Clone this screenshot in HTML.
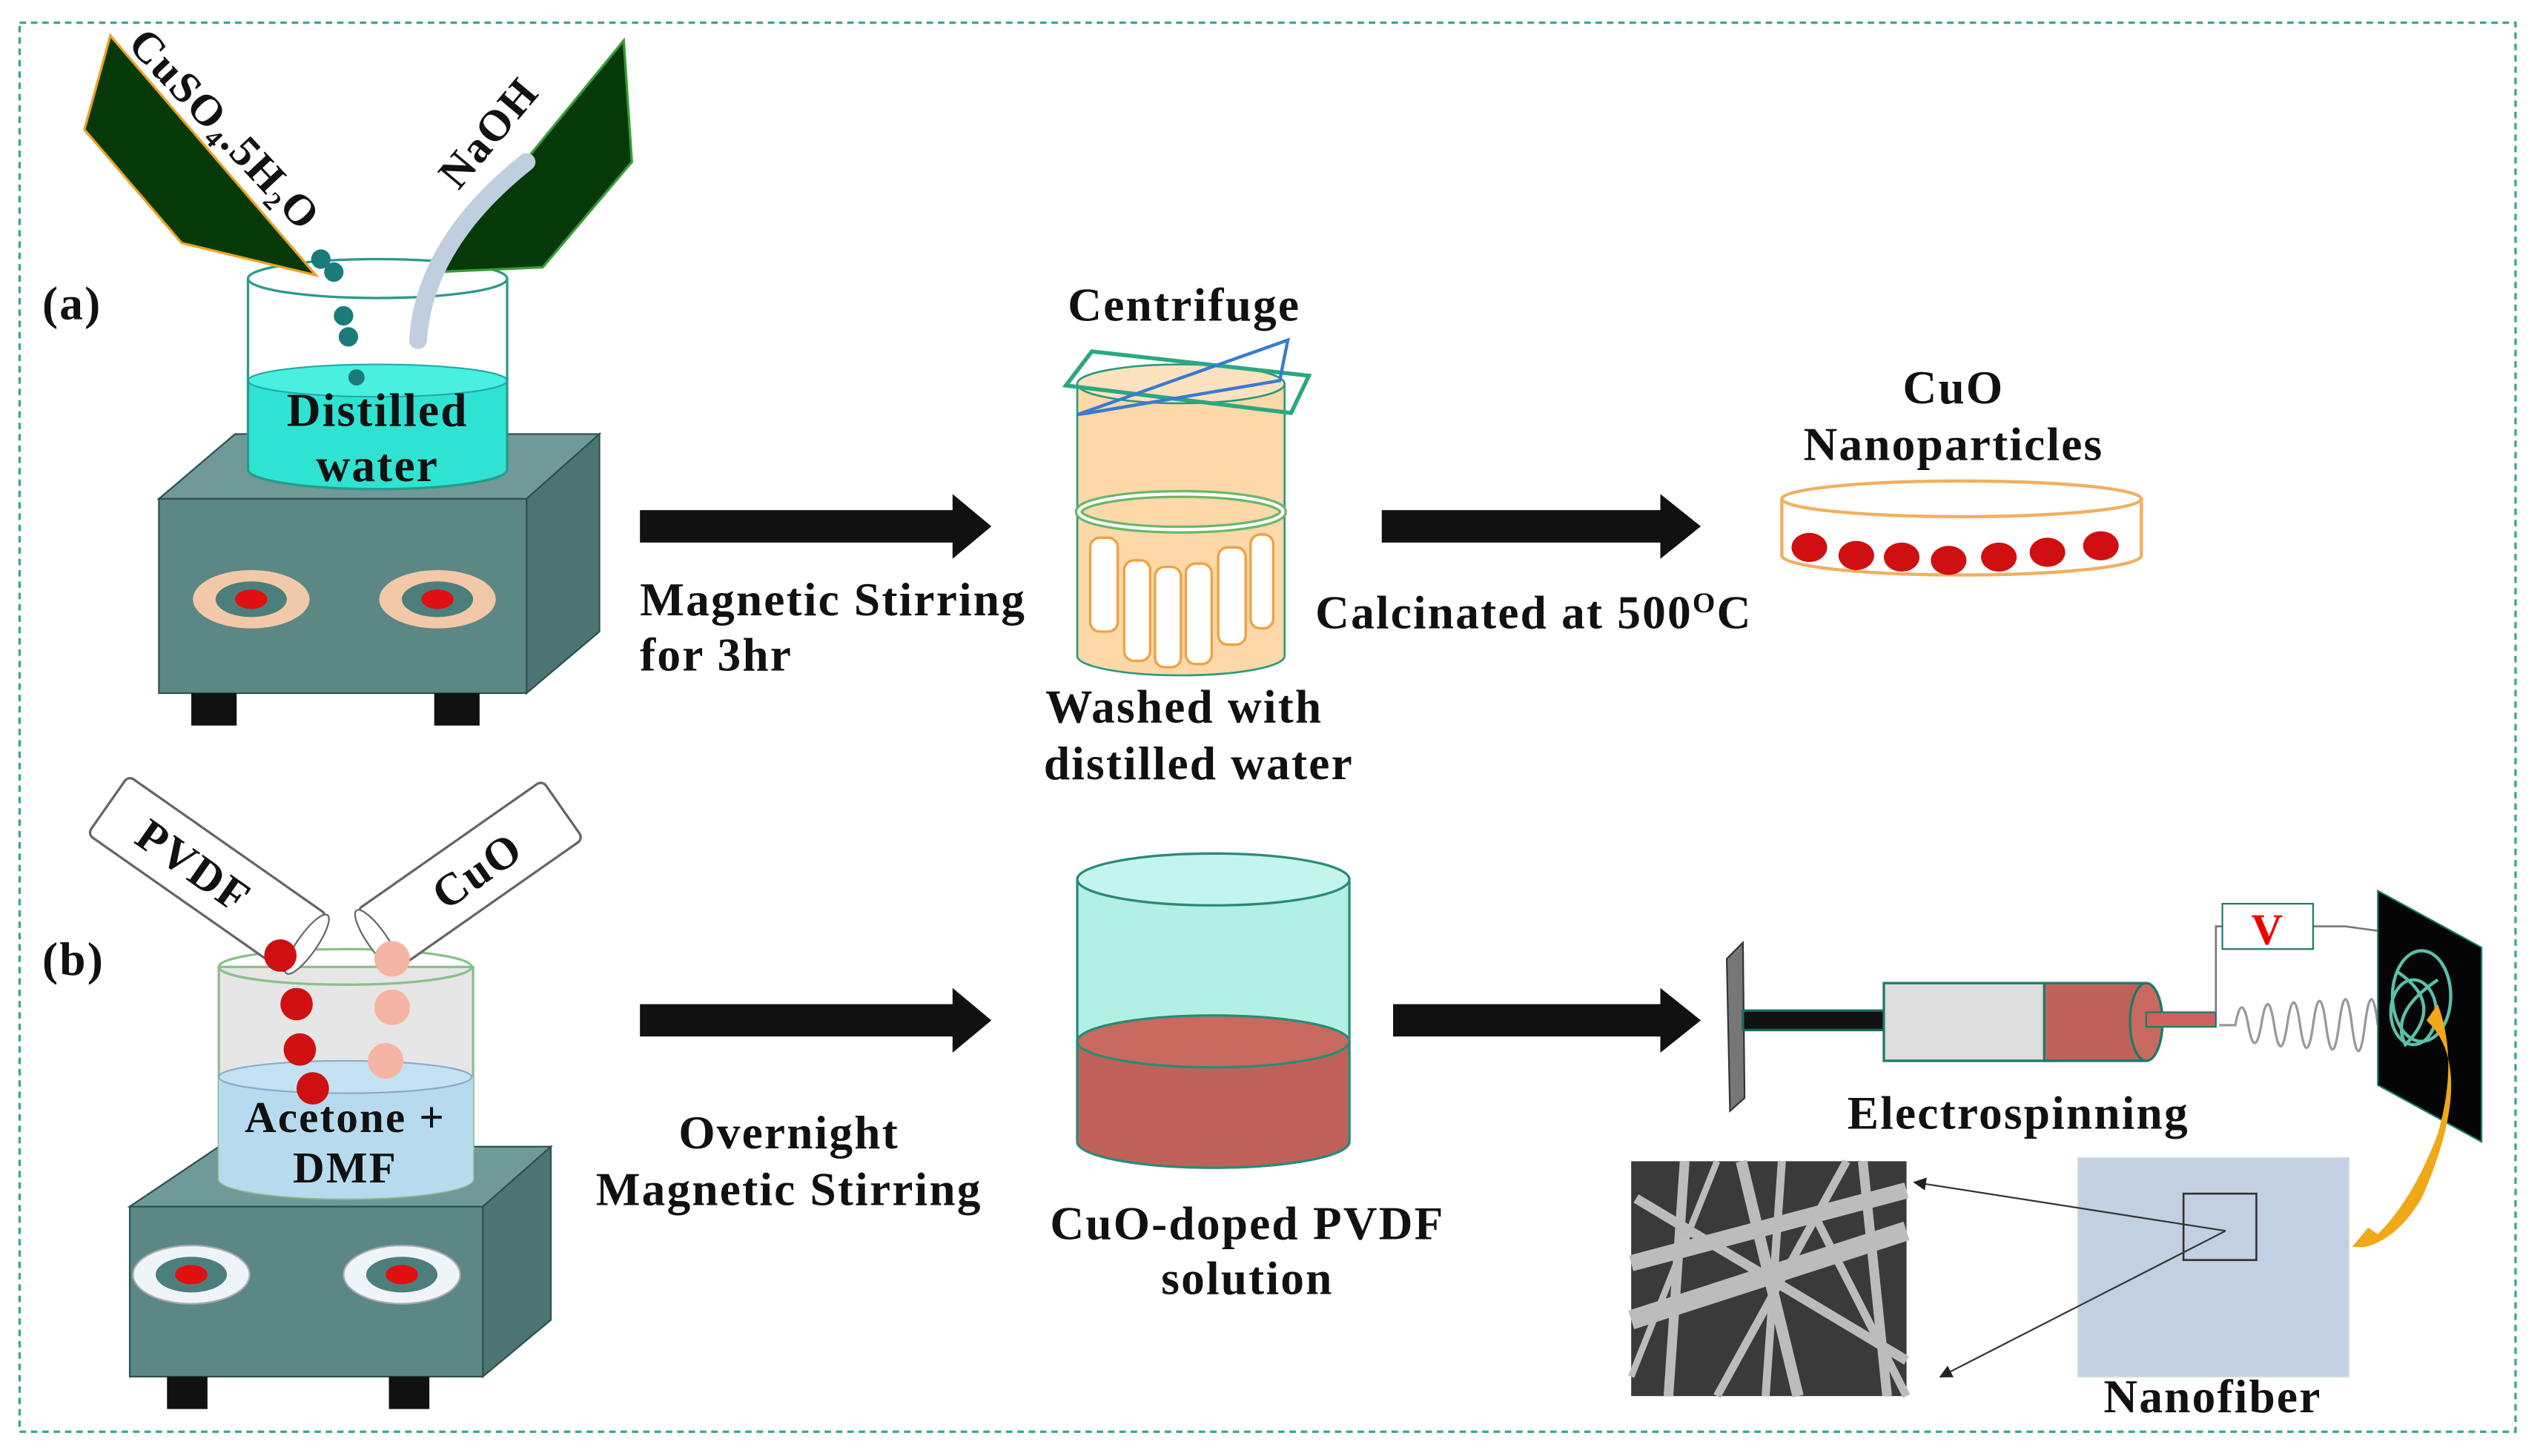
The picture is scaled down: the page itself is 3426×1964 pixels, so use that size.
<!DOCTYPE html>
<html><head><meta charset="utf-8"><style>
html,body{margin:0;padding:0;background:#fff;width:3426px;height:1964px;overflow:hidden}
svg{display:block}
text{font-family:"Liberation Serif",serif;font-weight:bold;fill:#111;letter-spacing:1px}
</style></head><body>
<svg width="3426" height="1964" viewBox="0 0 1568 899" xmlns="http://www.w3.org/2000/svg">
<defs>
<marker id="ah" markerWidth="8" markerHeight="8" refX="7" refY="4" orient="auto" markerUnits="userSpaceOnUse"><path d="M0,0 L8,4 L0,8z" fill="#222"/></marker>
</defs>
<rect x="12" y="14" width="1541" height="870" fill="none" stroke="#3aa58c" stroke-width="1.5" stroke-dasharray="4,3"/>
<text x="26" y="197" font-size="29">(a)</text>
<text x="26" y="602" font-size="29">(b)</text>

<!-- hot plate a -->
<polygon points="98,308 145,268 370,268 325,308" fill="#6f9a98" stroke="#2e5050"/>
<polygon points="325,308 370,268 370,390 325,428" fill="#4c7473" stroke="#2e5050"/>
<rect x="98" y="308" width="227" height="120" fill="#5b8785" stroke="#2e5050"/>
<rect x="118" y="428" width="28" height="20" fill="#111"/><rect x="268" y="428" width="28" height="20" fill="#111"/>
<g><ellipse cx="155" cy="370" rx="36" ry="18" fill="#f2c9a8"/><ellipse cx="155" cy="370" rx="22" ry="11" fill="#4c7f7c"/><ellipse cx="155" cy="370" rx="10" ry="6" fill="#e01010"/></g>
<g><ellipse cx="270" cy="370" rx="36" ry="18" fill="#f2c9a8"/><ellipse cx="270" cy="370" rx="22" ry="11" fill="#4c7f7c"/><ellipse cx="270" cy="370" rx="10" ry="6" fill="#e01010"/></g>
<!-- beaker a -->
<path d="M153,235 L153,290 A80,12 0 0 0 313,290 L313,235 Z" fill="#2fe3d3"/>
<ellipse cx="233" cy="235" rx="80" ry="10" fill="#49f0e0" stroke="#2aa" stroke-width="1"/>
<path d="M153,172 L153,290 A80,12 0 0 0 313,290 L313,172" fill="none" stroke="#2a9a8a" stroke-width="1.5"/>
<ellipse cx="233" cy="172" rx="80" ry="12" fill="none" stroke="#2a9a8a" stroke-width="1.5"/>
<text x="233" y="263" font-size="29" text-anchor="middle">Distilled</text>
<text x="233" y="297" font-size="29" text-anchor="middle">water</text>
<!-- bottles a -->
<polygon points="68,22 52,80 112,150 195,170" fill="#053a08" stroke="#f0a020" stroke-width="1.5"/>
<text transform="translate(78,28) rotate(47)" font-size="27">CuSO<tspan font-size="16" dy="5">4</tspan><tspan dy="-5">.5H</tspan><tspan font-size="16" dy="5">2</tspan><tspan dy="-5">O</tspan></text>
<polygon points="385,25 390,100 335,165 268,168" fill="#053a08" stroke="#3a9a3a" stroke-width="1.5"/>
<text transform="translate(283,118) rotate(-50)" font-size="27">NaOH</text>
<path d="M258,210 Q262,150 325,100" stroke="#c0cfe0" stroke-width="11" fill="none" stroke-linecap="round"/>
<circle cx="198" cy="160" r="6" fill="#1b7b7b"/><circle cx="206" cy="168" r="6" fill="#1b7b7b"/><circle cx="212" cy="195" r="6" fill="#1b7b7b"/><circle cx="215" cy="208" r="6" fill="#1b7b7b"/><circle cx="220" cy="233" r="5" fill="#1b7b7b"/>

<!-- arrows -->
<polygon points="395,315 588,315 588,305 612,325 588,345 588,335 395,335" fill="#111"/>
<polygon points="853,315 1025,315 1025,305 1050,325 1025,345 1025,335 853,335" fill="#111"/>
<polygon points="395,620 588,620 588,610 612,630 588,650 588,640 395,640" fill="#111"/>
<polygon points="860,620 1025,620 1025,610 1050,630 1025,650 1025,640 860,640" fill="#111"/>

<text x="395" y="380" font-size="29">Magnetic Stirring</text>
<text x="395" y="414" font-size="29">for 3hr</text>
<text x="731" y="198" font-size="29" text-anchor="middle">Centrifuge</text>
<text x="731" y="446" font-size="29" text-anchor="middle">Washed with</text>
<text x="740" y="481" font-size="29" text-anchor="middle">distilled water</text>
<text x="812" y="388" font-size="29">Calcinated at 500<tspan font-size="18" dy="-10">O</tspan><tspan dy="10">C</tspan></text>
<text x="1206" y="249" font-size="29" text-anchor="middle">CuO</text>
<text x="1206" y="284" font-size="29" text-anchor="middle">Nanoparticles</text>

<!-- centrifuge -->
<path d="M665,237 L665,405 A64,12 0 0 0 793,405 L793,237 Z" fill="#fdd8a8" stroke="#2a9a7a" stroke-width="1.2"/>
<ellipse cx="729" cy="237" rx="64" ry="12" fill="#fde2c0" stroke="#2a9a7a" stroke-width="1.2"/>
<ellipse cx="729" cy="316" rx="63" ry="11" fill="none" stroke="#6ab86a" stroke-width="5"/>
<ellipse cx="729" cy="316" rx="63" ry="11" fill="none" stroke="#fff" stroke-width="2"/>
<g fill="#fff" stroke="#f0a040" stroke-width="1.5">
<rect x="673" y="332" width="17" height="58" rx="6"/><rect x="694" y="346" width="16" height="62" rx="6"/><rect x="713" y="350" width="16" height="62" rx="6"/><rect x="732" y="348" width="16" height="62" rx="6"/><rect x="752" y="338" width="17" height="60" rx="6"/><rect x="772" y="330" width="14" height="58" rx="6"/>
</g>
<polygon points="674,217 808,232 797,255 658,238" fill="none" stroke="#2aa880" stroke-width="2.5"/>
<polygon points="665,256 795,210 790,235 672,255" fill="none" stroke="#3a7ad0" stroke-width="2"/>
<!-- petri -->
<path d="M1100,308 L1100,343 A111,12 0 0 0 1322,343 L1322,308" fill="#fff" stroke="#f0b060" stroke-width="2"/>
<ellipse cx="1211" cy="308" rx="111" ry="11" fill="#fff" stroke="#f0b060" stroke-width="2"/>
<g fill="#d01010"><ellipse cx="1117" cy="338" rx="11" ry="9"/><ellipse cx="1146" cy="343" rx="11" ry="9"/><ellipse cx="1174" cy="344" rx="11" ry="9"/><ellipse cx="1203" cy="346" rx="11" ry="9"/><ellipse cx="1234" cy="344" rx="11" ry="9"/><ellipse cx="1264" cy="341" rx="11" ry="9"/><ellipse cx="1297" cy="337" rx="11" ry="9"/></g>

<!-- hot plate b -->
<polygon points="80,745 135,708 340,708 298,745" fill="#6f9a98" stroke="#2e5050"/>
<polygon points="298,745 340,708 340,815 298,850" fill="#4c7473" stroke="#2e5050"/>
<rect x="80" y="745" width="218" height="105" fill="#5b8785" stroke="#2e5050"/>
<rect x="103" y="850" width="25" height="20" fill="#111"/><rect x="240" y="850" width="25" height="20" fill="#111"/>
<g><ellipse cx="118" cy="787" rx="36" ry="18" fill="#eef4f8" stroke="#aaa"/><ellipse cx="118" cy="787" rx="22" ry="11" fill="#4c7f7c"/><ellipse cx="118" cy="787" rx="10" ry="6" fill="#e01010"/></g>
<g><ellipse cx="248" cy="787" rx="36" ry="18" fill="#eef4f8" stroke="#aaa"/><ellipse cx="248" cy="787" rx="22" ry="11" fill="#4c7f7c"/><ellipse cx="248" cy="787" rx="10" ry="6" fill="#e01010"/></g>
<!-- beaker b -->
<path d="M135,597 L135,728 A78,12 0 0 0 292,728 L292,597 Z" fill="#e6e6e6" stroke="#8ac08a" stroke-width="1.5"/>
<path d="M135,665 L135,728 A78,12 0 0 0 292,728 L292,665 Z" fill="#b7dbee"/>
<ellipse cx="213" cy="665" rx="78" ry="10" fill="#c4e2f2" stroke="#8ac" stroke-width="1"/>
<ellipse cx="213" cy="597" rx="78" ry="11" fill="none" stroke="#8ac08a" stroke-width="1.5"/>
<text x="213" y="699" font-size="27" text-anchor="middle">Acetone +</text>
<text x="213" y="730" font-size="27" text-anchor="middle">DMF</text>
<!-- tubes b -->
<g transform="translate(128,540) rotate(35)"><rect x="-75" y="-22" width="150" height="44" rx="4" fill="#fff" stroke="#666" stroke-width="1.5"/><ellipse cx="75" cy="0" rx="6" ry="22" fill="#fff" stroke="#666"/><text x="-10" y="10" font-size="28" text-anchor="middle">PVDF</text></g>
<g transform="translate(290,540) rotate(-35)"><rect x="-70" y="-22" width="140" height="44" rx="4" fill="#fff" stroke="#666" stroke-width="1.5"/><ellipse cx="-70" cy="0" rx="6" ry="22" fill="#fff" stroke="#666"/><text x="5" y="10" font-size="28" text-anchor="middle">CuO</text></g>
<g fill="#d01010"><circle cx="173" cy="590" r="10"/><circle cx="183" cy="620" r="10"/><circle cx="185" cy="648" r="10"/><circle cx="193" cy="672" r="10"/></g>
<g fill="#f5b5a5"><circle cx="242" cy="592" r="11"/><circle cx="242" cy="622" r="11"/><circle cx="238" cy="655" r="11"/></g>
<text x="487" y="709" font-size="29" text-anchor="middle">Overnight</text>
<text x="487" y="744" font-size="29" text-anchor="middle">Magnetic Stirring</text>

<!-- solution beaker -->
<path d="M665,543 L665,705 A84,16 0 0 0 833,705 L833,543 Z" fill="#b2f0e4" stroke="#2a8a7a" stroke-width="1.5"/>
<path d="M665,643 L665,705 A84,16 0 0 0 833,705 L833,643 Z" fill="#c0625a" stroke="#2a8a7a" stroke-width="1.5"/>
<ellipse cx="749" cy="643" rx="84" ry="16" fill="#c86a60" stroke="#2a8a7a" stroke-width="1.5"/>
<ellipse cx="749" cy="543" rx="84" ry="16" fill="#c4f5ec" stroke="#2a8a7a" stroke-width="1.5"/>
<text x="770" y="765" font-size="29" text-anchor="middle">CuO-doped PVDF</text>
<text x="770" y="799" font-size="29" text-anchor="middle">solution</text>

<!-- electrospinning -->
<polygon points="1066,592 1076,582 1077,678 1068,686" fill="#777" stroke="#333"/>
<rect x="1076" y="624" width="90" height="12" fill="#111" stroke="#1a6a5a" stroke-width="1.5"/>
<rect x="1163" y="607" width="107" height="48" fill="#ddd" stroke="#1a7a6a" stroke-width="1.5"/>
<path d="M1262,607 L1325,607 A10,24 0 0 1 1325,655 L1262,655 Z" fill="#c0625a" stroke="#1a7a6a" stroke-width="1.5"/>
<ellipse cx="1325" cy="631" rx="10" ry="24" fill="#c86a60" stroke="#1a7a6a" stroke-width="1.5"/>
<rect x="1325" y="625" width="43" height="9" fill="#d06060" stroke="#1a7a6a"/>
<path d="M1368,625 L1368,572 L1372,572 M1428,572 L1448,572 L1470,575" fill="none" stroke="#777" stroke-width="1.2"/>
<rect x="1372" y="558" width="56" height="28" fill="#fff" stroke="#1a7a6a"/>
<text x="1400" y="583" font-size="27" text-anchor="middle" style="fill:#e00">V</text>
<path d="M1370,633 L1380,633 q4,-22 8,0 q4,22 8,0 q4,-26 8,0 q4,26 8,0 q4,-28 8,0 q4,28 8,0 q4,-30 8,0 q4,30 8,0 q4,-32 8,0 q4,32 8,0 q4,-32 8,0" fill="none" stroke="#999" stroke-width="1.5"/>
<polygon points="1468,550 1532,585 1532,705 1468,670" fill="#050505" stroke="#1a7a6a" stroke-width="1"/>
<g fill="none" stroke="#5ac0a8" stroke-width="2"><ellipse cx="1495" cy="615" rx="18" ry="28"/><ellipse cx="1490" cy="625" rx="14" ry="20"/><path d="M1480,600 Q1510,620 1485,645 Q1475,625 1505,605"/></g>
<path d="M1498,630 Q1530,660 1495,740 Q1480,765 1460,770 L1452,770 L1462,758 L1468,762 Q1490,740 1505,700 Q1518,655 1505,620 Z" fill="#f0a818"/>
<text x="1246" y="697" font-size="29" text-anchor="middle">Electrospinning</text>
<rect x="1007" y="717" width="170" height="145" fill="#3a3a3a"/>
<g stroke="#bcbcbc" fill="none">
<path d="M1007,780 L1177,735" stroke-width="10"/>
<path d="M1007,815 L1177,760" stroke-width="12"/>
<path d="M1040,717 L1030,862" stroke-width="6"/>
<path d="M1075,717 L1110,862" stroke-width="7"/>
<path d="M1100,717 L1090,862" stroke-width="5"/>
<path d="M1140,717 L1060,862" stroke-width="5"/>
<path d="M1010,740 L1177,840" stroke-width="6"/>
<path d="M1120,750 L1177,862" stroke-width="5"/>
<path d="M1007,850 L1060,717" stroke-width="4"/>
<path d="M1150,717 L1165,862" stroke-width="6"/>
</g>
<rect x="1283" y="715" width="167" height="135" fill="#c3cfe3" stroke="#cdd"/>
<rect x="1348" y="737" width="45" height="41" fill="none" stroke="#333" stroke-width="1.2"/>
<line x1="1374" y1="760" x2="1182" y2="730" stroke="#333" stroke-width="1" marker-end="url(#ah)"/>
<line x1="1374" y1="760" x2="1198" y2="850" stroke="#333" stroke-width="1" marker-end="url(#ah)"/>
<text x="1366" y="872" font-size="29" text-anchor="middle">Nanofiber</text>
</svg>
</body></html>
